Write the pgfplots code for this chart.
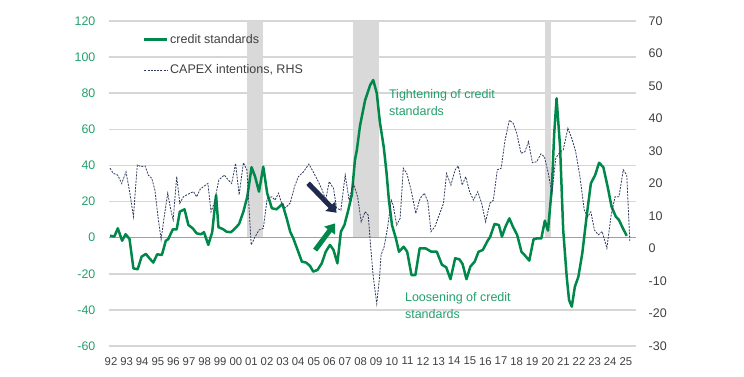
\documentclass[border=0pt]{standalone}
\usepackage{fontspec}
\setmainfont{Liberation Sans}
\usepackage{pgfplots}
\pgfplotsset{compat=1.18}
\usetikzlibrary{arrows.meta}
\definecolor{cgreen}{HTML}{00884A}
\definecolor{lgreen}{HTML}{23A06C}
\definecolor{navy}{HTML}{1F2A4E}
\definecolor{dashc}{HTML}{2E3A5E}
\definecolor{bandc}{HTML}{D9D9D9}
\definecolor{gridc}{HTML}{D6D6D6}
\definecolor{zeroc}{HTML}{A0A0A0}
\definecolor{txtc}{HTML}{404040}
\begin{document}
\begin{tikzpicture}
\useasboundingbox (0,0) rectangle (744bp,377bp);
\begin{axis}[
  at={(109bp,31bp)}, anchor=south west, scale only axis,
  width=527bp, height=325bp,
  xmin=-0.26, xmax=134.87, ymin=-60, ymax=120,
  ytick={-60,-40,...,120},
  axis line style={draw=none},
  tick style={draw=none},
  xtick={0.26,4.26,...,132.3},
  xticklabels={92,93,94,95,96,97,98,99,00,01,02,03,04,05,06,07,08,09,10,11,12,13,14,15,16,17,18,19,20,21,22,23,24,25},
  /pgf/number format/assume math mode=true,
  yticklabel style={font=\fontsize{12.4bp}{14bp}\selectfont, text=lgreen, inner sep=0pt, xshift=-13.5bp},
  xticklabel style={font=\fontsize{11.3bp}{13bp}\selectfont, text=txtc, inner sep=0pt, yshift=-11bp},
  legend style={draw=none, fill=none, at={(rel axis cs:0.0645,0.965)}, anchor=north west,
    font=\fontsize{12.5bp}{15bp}\selectfont, text=txtc, row sep=17bp, inner sep=0pt,
    nodes={inner sep=1.5bp}},
  legend cell align=left,
  legend image code/.code={\draw[#1] (0bp,0bp) -- (23bp,0bp);},
  clip=false,
]
\addplot[fill=gridc, draw=none, forget plot] coordinates {(-0.26,-60.42)(134.87,-60.42)(134.87,-59.58)(-0.26,-59.58)} -- cycle;
\addplot[fill=gridc, draw=none, forget plot] coordinates {(-0.26,-40.42)(134.87,-40.42)(134.87,-39.58)(-0.26,-39.58)} -- cycle;
\addplot[fill=gridc, draw=none, forget plot] coordinates {(-0.26,-20.42)(134.87,-20.42)(134.87,-19.58)(-0.26,-19.58)} -- cycle;
\addplot[fill=gridc, draw=none, forget plot] coordinates {(-0.26,19.58)(134.87,19.58)(134.87,20.42)(-0.26,20.42)} -- cycle;
\addplot[fill=gridc, draw=none, forget plot] coordinates {(-0.26,39.58)(134.87,39.58)(134.87,40.42)(-0.26,40.42)} -- cycle;
\addplot[fill=gridc, draw=none, forget plot] coordinates {(-0.26,59.58)(134.87,59.58)(134.87,60.42)(-0.26,60.42)} -- cycle;
\addplot[fill=gridc, draw=none, forget plot] coordinates {(-0.26,79.58)(134.87,79.58)(134.87,80.42)(-0.26,80.42)} -- cycle;
\addplot[fill=gridc, draw=none, forget plot] coordinates {(-0.26,99.58)(134.87,99.58)(134.87,100.42)(-0.26,100.42)} -- cycle;
\addplot[fill=gridc, draw=none, forget plot] coordinates {(-0.26,119.58)(134.87,119.58)(134.87,120.42)(-0.26,120.42)} -- cycle;
\addplot[fill=bandc, draw=none, forget plot] coordinates {(35.1,0)(35.1,120)(39.2,120)(39.2,0)} -- cycle;
\addplot[fill=bandc, draw=none, forget plot] coordinates {(62.3,0)(62.3,120)(69.0,120)(69.0,0)} -- cycle;
\addplot[fill=bandc, draw=none, forget plot] coordinates {(111.5,0)(111.5,120)(113.2,120)(113.2,0)} -- cycle;
\addplot[draw=zeroc, line width=1bp, forget plot] coordinates {(-0.26,0)(134.87,0)};
\addplot[cgreen, line width=2.5bp, line join=round] coordinates {
(0,1.1)(1.1,0.6)(2,5.2)(3.1,-1.7)(4,1.9)(5,-0.7)(6,-17)(7.1,-17.5)(8.1,-10.5)(9.2,-9)
(10.1,-11.4)(11.1,-13.8)(12.1,-9.2)(13.3,-9.6)(14.3,-1.7)(14.9,-0.9)(16.1,4.6)(17.1,4.6)
(17.9,14.4)(19.1,15.7)(20.1,7)(21.2,5.2)(22.2,2.4)(23.3,1.9)(24.1,3)(25.2,-4)(26.2,3)
(27.2,23.6)(27.8,5.8)(28.9,4.8)(29.9,3.3)(31,3)(32.1,5.2)(33.1,7.6)(34.2,14.4)(35.2,22.7)
(36.3,39)(37.2,33.8)(38.2,25.5)(39.3,39.3)(40.3,24.6)(41.5,16.3)(42.7,15.7)(44.2,18.7)
(45.3,10.7)(46.2,3.3)(47,-0.4)(48.1,-6.8)(49.2,-13.3)(50.3,-13.8)(51.3,-15.7)(52.1,-18.8)
(53.2,-17.9)(54.3,-14.2)(55.3,-7.8)(56.4,-4)(57.3,-6.8)(58.3,-14.2)(59.2,3.3)(60.1,7)
(61.1,15.3)(62,23.6)(62.8,43)(63.3,48.6)(64.1,62)(65.4,76)(66.7,84.5)(67.5,87.3)(68.4,80)
(69.2,64)(70.2,50)(70.9,36)(71.5,21)(72.3,7)(73.3,-0.4)(74.1,-7.8)(75.3,-5)(76.2,-7.8)
(77.3,-20.7)(78.3,-20.7)(79.4,-5.9)(80.9,-5.9)(82.4,-7.8)(83.8,-7.8)(85.1,-15)(86.2,-16.4)
(87.3,-23)(88.5,-11.4)(89.6,-12)(90.4,-14.6)(91.4,-23)(92.4,-16)(93.5,-13.3)(94.5,-7.8)
(95.6,-6.8)(96.7,-2.2)(97.5,0.6)(98.6,7.6)(99.7,7)(100.5,0.6)(101.4,6.1)(102.4,10.7)
(103.3,6.1)(104.4,1.5)(105.5,-7.8)(106.5,-10.1)(107.5,-12.7)(108.6,-0.9)(109.5,-0.4)
(110.6,-0.4)(111.5,9.4)(112.3,3.9)(113.3,28)(113.9,57.8)(114.5,77.2)(115.4,50.4)(116.2,4.3)
(117.1,-21.6)(117.7,-34.5)(118.4,-38.2)(119.2,-27.1)(120.1,-21.6)(121.1,-8.6)(122.2,11.6)
(123.3,30.1)(124.4,34.7)(125.4,41.5)(126.5,39)(127.6,28.2)(128.6,17.2)(129.7,11.6)
(130.5,9.8)(131.5,5.2)(132.5,1)};
\addlegendentry{credit standards}
\addlegendimage{dashc, line width=0.8bp, dash pattern=on 2bp off 1.2bp}
\addlegendentry{CAPEX intentions, RHS}
\draw[navy, line width=5bp, -{Triangle[width=13bp,length=9bp]}] (axis cs:50.8,30.1) -- (axis cs:58.1,13.8);
\draw[cgreen, line width=5bp, -{Triangle[width=13bp,length=9bp]}] (axis cs:52.6,-6.9) -- (axis cs:57.7,7.9);
\node[anchor=west, align=left, inner sep=0pt, text=lgreen, font=\fontsize{12.5bp}{17bp}\selectfont] at (axis cs:71.5,74.9) {Tightening of credit\\standards};
\node[anchor=west, align=left, inner sep=0pt, text=lgreen, font=\fontsize{12.5bp}{17bp}\selectfont] at (axis cs:75.6,-37.5) {Loosening of credit\\standards};
\end{axis}
\begin{axis}[
  at={(109bp,31bp)}, anchor=south west, scale only axis,
  width=527bp, height=325bp,
  xmin=-0.26, xmax=134.87, ymin=-30, ymax=70,
  ytick={-30,-20,...,70},
  axis y line*=right, axis x line=none,
  axis line style={draw=none}, tick style={draw=none},
  /pgf/number format/assume math mode=true,
  yticklabel style={font=\fontsize{12.5bp}{14bp}\selectfont, text=txtc, inner sep=0pt, xshift=12.5bp, anchor=west},
]
\addplot[dashc, line width=0.8bp, dash pattern=on 2bp off 1.2bp] coordinates {
(0,24.7)(0.85,23.1)(1.97,22.6)(3,20)(4.1,23.6)(5.1,17)(6,9.8)(7,25.7)(7.95,25.2)(9,25.4)
(9.8,22.6)(10.7,21.6)(11.5,18)(12.4,8.8)(13.1,2.8)(13.9,9.8)(14.8,17)(15.6,11.8)(16.2,8.8)
(17.1,22.1)(17.9,13.9)(18.8,15.9)(19.7,16.5)(20.5,17)(21.4,17.5)(22.2,15.9)(23.1,18.2)
(23.9,19)(25.1,20)(25.9,11.3)(26.7,13.9)(27.9,21.1)(29.3,22.6)(30.3,21.1)(31.2,20)
(32.2,26.2)(33.1,16.5)(34.2,26.4)(35.1,24.2)(36.2,1.1)(37.2,3.6)(38.2,5.7)(39.3,6.2)
(40.3,15.4)(41.5,15.9)(42.3,14.9)(43.2,17)(44,13.9)(45,12.5)(46.2,14)(47.3,19)(48.3,22.1)
(49.6,23.6)(51,26)(52.1,23.6)(53.4,20.6)(54.4,18)(55.3,14.9)(56.2,20.6)(57.3,18.5)
(58.1,12.4)(59.2,11.8)(60.3,22.6)(61.3,14.9)(62.4,20)(63.5,15.9)(64.4,8.2)(65.4,11.3)
(66.2,10.3)(66.9,-0.5)(67.5,-8.7)(68.4,-17)(69.1,-9)(69.5,-2)(70.3,0.6)(71.2,6.7)
(72.1,14.9)(72.6,13.4)(73.5,7.2)(74.4,9.3)(75.2,24.7)(76.1,23.1)(77.2,18)(78.4,10.8)
(79.5,15.4)(80.6,17)(81.5,14.4)(82.3,5.2)(83.3,6.7)(84.4,10.3)(85.5,13.9)(86.3,23.1)
(87.4,19.5)(88.5,24.2)(89.3,25.4)(90.3,19.5)(91.2,22.1)(92.2,17.5)(93.2,14.9)(94.3,17.5)
(95.3,13.9)(96.3,8.2)(97.4,13.9)(98.3,14.9)(99.3,24.2)(100.3,24.7)(101.3,33.4)(102.4,39.5)
(103.4,38.5)(104.3,35.4)(105.4,29.3)(106.4,29.8)(107.3,32.9)(108.3,26.4)(109.4,26.7)
(110.5,29.1)(111.4,28.2)(112.4,23)(113.3,17)(114.3,27.8)(115.4,29.8)(116.2,30.3)
(117.4,37)(118.4,33.9)(119.4,29.8)(120.5,22.1)(121.6,11.8)(122.5,9.8)(123.3,11.3)
(124.2,5.7)(125.2,4.2)(126.2,5.2)(127.4,0.1)(128.5,10.3)(129.5,15.9)(130.5,15.9)
(131.6,24.2)(132.5,22.6)(133.3,2)};
\end{axis}
\end{tikzpicture}
\end{document}
